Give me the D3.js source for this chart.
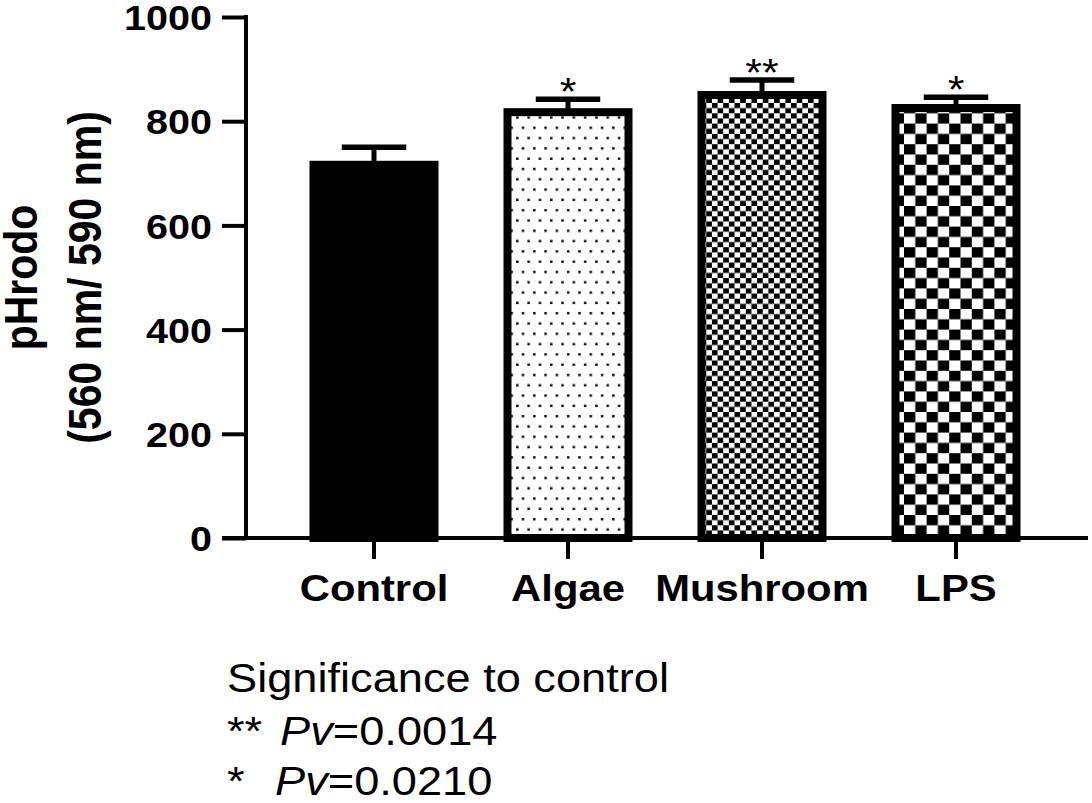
<!DOCTYPE html>
<html>
<head>
<meta charset="utf-8">
<script src="https://cdn.jsdelivr.net/npm/d3@7"></script>
<style>
  body { margin: 0; background: #fff; }
  svg { display: block; }
  text { font-family: "Liberation Sans", Arial, sans-serif; fill: #000; }
</style>
</head>
<body>
<div id="chart"></div>
<script>
// values
var groups = ["Control", "Algae", "Mushroom", "LPS"];
var means = [724, 825, 858, 833];
var sems = [26, 17, 21, 13];
var stars = ["", "*", "**", "*"];
var yTicks = [0, 200, 400, 600, 800, 1000];
var yTitle = ["pHrodo", "(560 nm/ 590 nm)"];
var legendTitle = "Significance to control";
var legendStars = ["**", "*"];
var legendPv = ["=0.0014", "=0.0210"];

var W = 1092, H = 803;
var sx = 1.13; // the source picture is a bit wider than tall, text too

var svg = d3.select("#chart").append("svg")
    .attr("width", W)
    .attr("height", H);

svg.append("rect").attr("width", W).attr("height", H).attr("fill", "#fff");

// patterns
var defs = svg.append("defs");

var pDots = defs.append("pattern")
    .attr("id", "dots")
    .attr("patternUnits", "userSpaceOnUse")
    .attr("width", 11.3).attr("height", 20.6);
pDots.append("rect").attr("width", 11.3).attr("height", 20.6).attr("fill", "#fff");
pDots.append("rect").attr("x", 2).attr("y", 3).attr("width", 2.4).attr("height", 2.4).attr("fill", "#000");
pDots.append("rect").attr("x", 7.65).attr("y", 13.3).attr("width", 2.4).attr("height", 2.4).attr("fill", "#000");

function checker(id, cw, ch) {
    var p = defs.append("pattern")
        .attr("id", id)
        .attr("patternUnits", "userSpaceOnUse")
        .attr("width", cw * 2).attr("height", ch * 2);
    p.append("rect").attr("width", cw * 2).attr("height", ch * 2).attr("fill", "#fff");
    p.append("rect").attr("width", cw).attr("height", ch).attr("fill", "#000");
    p.append("rect").attr("x", cw).attr("y", ch).attr("width", cw).attr("height", ch).attr("fill", "#000");
}
checker("fineCheck", 5.65, 5.15);
checker("bigCheck", 11.3, 10.3);

var fillFor = ["#000", "url(#dots)", "url(#fineCheck)", "url(#bigCheck)"];

// scales
var x = d3.scaleBand()
    .domain(groups)
    .range([277, 1053])
    .paddingInner(0.335)
    .paddingOuter(0.1675);

var y = d3.scaleLinear()
    .domain([0, 1000])
    .range([538, 17]);

var bw = x.bandwidth();

// bars
var bars = svg.append("g").attr("class", "bars");
bars.selectAll("rect")
    .data(groups)
    .enter()
    .append("rect")
    .attr("x", function(d) { return x(d) + 4; })
    .attr("y", function(d, i) { return y(means[i]) + 4; })
    .attr("width", bw - 8)
    .attr("height", function(d, i) { return y(0) - y(means[i]) - 4; })
    .attr("fill", function(d, i) { return fillFor[i]; })
    .attr("stroke", "#000")
    .attr("stroke-width", 8);

// error bars (upper only)
var err = svg.append("g").attr("class", "err").attr("stroke", "#000");
err.selectAll(".stem")
    .data(groups)
    .enter()
    .append("line")
    .attr("class", "stem")
    .attr("x1", function(d) { return x(d) + bw / 2; })
    .attr("x2", function(d) { return x(d) + bw / 2; })
    .attr("y1", function(d, i) { return y(means[i]) + 1; })
    .attr("y2", function(d, i) { return y(means[i] + sems[i]); })
    .attr("stroke-width", 5);
err.selectAll(".cap")
    .data(groups)
    .enter()
    .append("line")
    .attr("class", "cap")
    .attr("x1", function(d) { return x(d) + bw / 4; })
    .attr("x2", function(d) { return x(d) + bw * 3 / 4; })
    .attr("y1", function(d, i) { return y(means[i] + sems[i]); })
    .attr("y2", function(d, i) { return y(means[i] + sems[i]); })
    .attr("stroke-width", 5.5);

// significance stars
svg.append("g").selectAll("text")
    .data(groups)
    .enter()
    .append("text")
    .attr("transform", function(d, i) {
        return "translate(" + (x(d) + bw / 2) + "," + (y(means[i] + sems[i]) + 6) + ") scale(" + sx + ",1)";
    })
    .attr("text-anchor", "middle")
    .style("font-size", "38px")
    .text(function(d, i) { return stars[i]; });

// y axis
var yAxis = svg.append("g")
    .attr("transform", "translate(246,0)")
    .call(d3.axisLeft(y).tickValues(yTicks).tickFormat(d3.format("d"))
        .tickSize(24).tickSizeOuter(0).tickPadding(10));
yAxis.select(".domain").remove();
yAxis.selectAll(".tick line").attr("stroke", "#000").attr("stroke-width", 4);
yAxis.selectAll(".tick text")
    .attr("x", -34 / sx)
    .attr("dy", "0.36em")
    .attr("transform", "scale(" + sx + ",1)")
    .style("font-size", "35px")
    .style("font-weight", "bold");
svg.append("line")
    .attr("x1", 246).attr("x2", 246)
    .attr("y1", y(1000) - 2).attr("y2", y(0))
    .attr("stroke", "#000").attr("stroke-width", 4);

// x axis
var xAxis = svg.append("g")
    .attr("transform", "translate(0," + y(0) + ")")
    .call(d3.axisBottom(x).tickSize(21).tickSizeOuter(0));
xAxis.select(".domain").remove();
xAxis.selectAll(".tick line").attr("stroke", "#000").attr("stroke-width", 4);
xAxis.selectAll(".tick text")
    .attr("y", 63)
    .attr("dy", 0)
    .attr("x", 0)
    .attr("transform", "scale(" + sx + ",1)")
    .style("font-size", "37px")
    .style("font-weight", "bold");
svg.append("line")
    .attr("x1", 222).attr("x2", 1088)
    .attr("y1", y(0)).attr("y2", y(0))
    .attr("stroke", "#000").attr("stroke-width", 4);

// y title, two lines
var titleX = [37, 101];
yTitle.forEach(function(t, i) {
    svg.append("text")
        .attr("transform", "translate(" + titleX[i] + "," + ((y(0) + y(1000)) / 2) + ") scale(" + sx + ",1) rotate(-90)")
        .attr("text-anchor", "middle")
        .style("font-size", "41px")
        .style("font-weight", "bold")
        .text(t);
});

// significance note
svg.append("text")
    .attr("transform", "translate(227,692) scale(" + sx + ",1)")
    .style("font-size", "40px")
    .text(legendTitle);

var noteY = [745, 795];
var pvX = [47, 42.5];
legendStars.forEach(function(s, i) {
    var t = svg.append("text")
        .attr("transform", "translate(227," + noteY[i] + ") scale(" + sx + ",1)")
        .style("font-size", "40px");
    t.append("tspan").attr("x", 0).text(s);
    t.append("tspan").attr("x", pvX[i]).style("font-style", "italic").text("Pv");
    t.append("tspan").text(legendPv[i]);
});
</script>
</body>
</html>
